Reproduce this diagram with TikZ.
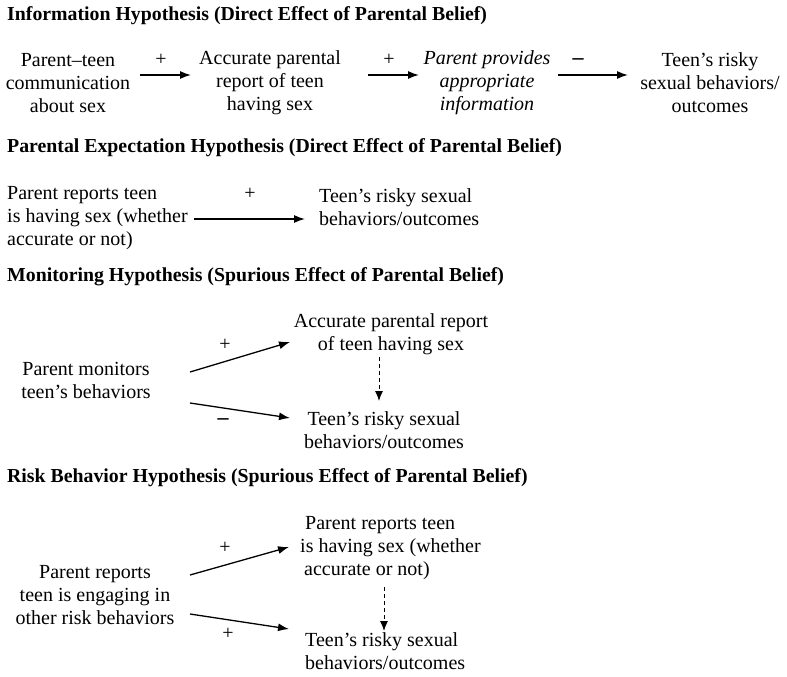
\documentclass[tikz,border=0pt]{standalone}
\usepackage{fontspec}
\setmainfont{Liberation Serif}
\usetikzlibrary{arrows.meta}
\begin{document}
\begin{tikzpicture}[x=1pt,y=-1pt,
  txt/.style={inner sep=0pt,align=center,font=\fontsize{20}{23}\selectfont},
  txtl/.style={inner sep=0pt,align=left,anchor=west,font=\fontsize{20}{23}\selectfont},
  ttl/.style={inner sep=0pt,anchor=west,font=\fontsize{19.8}{20}\selectfont\bfseries},
  sgn/.style={inner sep=0pt,font=\fontsize{20}{22}\selectfont},
  mns/.style={inner sep=0pt,font=\fontsize{22}{22}\selectfont\bfseries},
  arr/.style={-{Latex[length=11pt,width=8pt]},line width=1.3pt},
  darr/.style={-{Latex[length=10pt,width=8pt]},line width=1pt,dash pattern=on 4pt off 3pt}]
\useasboundingbox (0,0) rectangle (787,677);
% Section 1
\node[ttl] (t1) at (7,16) {Information Hypothesis (Direct Effect of Parental Belief)};
\node[txt] (a1) at (68,83) {Parent–teen\\communication\\about sex};
\node[txt] (a2) at (270,83) {Accurate parental\\report of teen\\having sex};
\node[txt,font=\fontsize{20}{23}\selectfont\itshape] (a3) at (487,83) {Parent provides\\appropriate\\information};
\node[txt] (a4) at (710,83) {Teen’s risky\\sexual behaviors/\\outcomes};
\coordinate (p1s) at (140,75); \coordinate (p1e) at (191,75);
\coordinate (p2s) at (368,75); \coordinate (p2e) at (419,75);
\coordinate (p3s) at (558,75); \coordinate (p3e) at (628,75);
\draw[arr] (p1s) -- (p1e);
\draw[arr] (p2s) -- (p2e);
\draw[arr] (p3s) -- (p3e);
\node[sgn] (s1) at (161,60) {+};
\node[sgn] (s2) at (389,60) {+};
\node[mns] (s3) at (578,62) {–};
% Section 2
\node[ttl] (t2) at (7,148) {Parental Expectation Hypothesis (Direct Effect of Parental Belief)};
\node[txtl] (b1) at (7,218) {Parent reports teen\\is having sex (whether\\accurate or not)};
\node[txtl] (b2) at (319,207) {Teen’s risky sexual\\behaviors/outcomes};
\coordinate (q1s) at (194,219); \coordinate (q1e) at (305,219);
\draw[arr] (q1s) -- (q1e);
\node[sgn] (s4) at (250,194) {+};
% Section 3
\node[ttl] (t3) at (7,277) {Monitoring Hypothesis (Spurious Effect of Parental Belief)};
\node[txt] (c1) at (86,380) {Parent monitors\\teen’s behaviors};
\node[txt] (c2) at (391,334) {Accurate parental report\\of teen having sex};
\node[txt] (c3) at (384,430) {Teen’s risky sexual\\behaviors/outcomes};
\coordinate (r1s) at (190,372); \coordinate (r1e) at (290,342);
\coordinate (r2s) at (190,403); \coordinate (r2e) at (290,418);
\draw[arr] (r1s) -- (r1e);
\draw[arr] (r2s) -- (r2e);
\coordinate (r3s) at (379,357); \coordinate (r3e) at (379,401);
\draw[darr] (r3s) -- (r3e);
\node[sgn] (s5) at (225,345) {+};
\node[mns] (s6) at (223,422) {–};
% Section 4
\node[ttl] (t4) at (7,478) {Risk Behavior Hypothesis (Spurious Effect of Parental Belief)};
\node[txt] (d1) at (95,595) {Parent reports\\teen is engaging in\\other risk behaviors};
\node[txtl] (d2) at (300,548) {\hspace*{5pt}Parent reports teen\\is having sex (whether\\\hspace*{4pt}accurate or not)};
\node[txtl] (d3) at (305,651) {Teen’s risky sexual\\behaviors/outcomes};
\coordinate (u1s) at (190,575); \coordinate (u1e) at (289,547);
\coordinate (u2s) at (190,614); \coordinate (u2e) at (289,629);
\draw[arr] (u1s) -- (u1e);
\draw[arr] (u2s) -- (u2e);
\coordinate (u3s) at (384,587); \coordinate (u3e) at (384,631);
\draw[darr] (u3s) -- (u3e);
\node[sgn] (s7) at (225,548) {+};
\node[sgn] (s8) at (228,634) {+};
\end{tikzpicture}
\end{document}
